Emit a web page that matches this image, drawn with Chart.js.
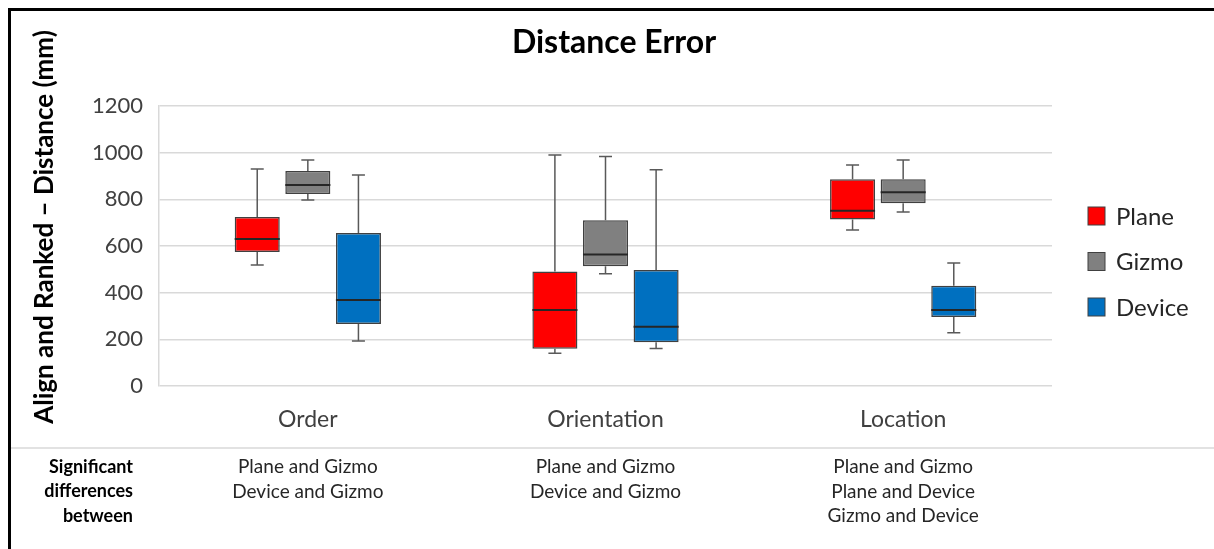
<!DOCTYPE html>
<html lang="en">
<head>
    <meta charset="UTF-8">
    <title>Distance Error</title>
    <script src="https://cdn.jsdelivr.net/npm/chart.js@4.4.0/dist/chart.umd.min.js"></script>
    <style>
        html, body { margin: 0; padding: 0; background: #fff; }
        #wrap { position: relative; width: 1214px; height: 549px; }
    </style>
</head>
<body>
<div id="wrap"><canvas id="distChart"></canvas></div>
<script>
    // box stats per category: [min, q1, median, q3, max]
    const categories = ['Order', 'Orientation', 'Location'];
    const seriesNames = ['Plane', 'Gizmo', 'Device'];
    const seriesColors = ['#FF0000', '#808080', '#0070C0'];
    const plane  = [[519, 574, 630, 724, 930], [140, 160, 326, 491, 990], [669, 714, 751, 886, 947]];
    const gizmo  = [[797, 823, 861, 921, 969], [481, 513, 564, 710, 984], [746, 783, 830, 886, 969]];
    const device = [[193, 266, 369, 656, 904], [161, 187, 254, 497, 927], [228, 296, 326, 430, 527]];
    const yTicks = [0, 200, 400, 600, 800, 1000, 1200];

    const chartTitle = 'Distance Error';
    const yTitle = 'Align and Ranked \u2013 Distance (mm)';
    const sigLabel = ['Significant', 'differences', 'between'];
    const sigDiffs = [
        ['Plane and Gizmo', 'Device and Gizmo'],
        ['Plane and Gizmo', 'Device and Gizmo'],
        ['Plane and Gizmo', 'Plane and Device', 'Gizmo and Device']
    ];

    const allStats = [plane, gizmo, device];
    const FONT = 'Lato, "Noto Sans", sans-serif';

    // whiskers and medians on top of the floating bars
    const boxPlugin = {
        id: 'boxWhiskers',
        afterDatasetsDraw(chart) {
            const ctx = chart.ctx, y = chart.scales.y;
            ctx.save();
            chart.data.datasets.forEach((ds, di) => {
                const meta = chart.getDatasetMeta(di);
                meta.data.forEach((bar, i) => {
                    const s = allStats[di][i];
                    const x = bar.x, half = bar.width / 2;
                    const yMin = y.getPixelForValue(s[0]), yQ1 = y.getPixelForValue(s[1]);
                    const yMed = y.getPixelForValue(s[2]), yQ3 = y.getPixelForValue(s[3]);
                    const yMax = y.getPixelForValue(s[4]);
                    ctx.strokeStyle = '#595959';
                    ctx.lineWidth = 1.5;
                    ctx.beginPath();
                    ctx.moveTo(x, yQ3); ctx.lineTo(x, yMax);
                    ctx.moveTo(x, yQ1); ctx.lineTo(x, yMin);
                    ctx.moveTo(x - 6.5, yMax); ctx.lineTo(x + 6.5, yMax);
                    ctx.moveTo(x - 6.5, yMin); ctx.lineTo(x + 6.5, yMin);
                    ctx.stroke();
                    ctx.strokeStyle = '#262626';
                    ctx.lineWidth = 2;
                    ctx.beginPath();
                    ctx.moveTo(x - half, yMed); ctx.lineTo(x + half, yMed);
                    ctx.stroke();
                });
            });
            ctx.restore();
        }
    };

    // frame, titles, legend and the significance table under the x axis
    const extrasPlugin = {
        id: 'extras',
        afterDraw(chart) {
            const ctx = chart.ctx, x = chart.scales.x;
            ctx.save();
            ctx.fillStyle = '#000';
            ctx.fillRect(8, 8, 1206, 3);
            ctx.fillRect(8, 8, 3, 541);

            ctx.strokeStyle = '#d9d9d9';
            ctx.lineWidth = 1.5;
            ctx.beginPath();
            ctx.moveTo(11, 448); ctx.lineTo(1214, 448);
            ctx.stroke();

            // titles
            ctx.fillStyle = '#000';
            ctx.textAlign = 'center';
            ctx.textBaseline = 'middle';
            ctx.font = 'bold 32px ' + FONT;
            ctx.fillText(chartTitle, 614, 43);
            ctx.save();
            ctx.translate(45, 227);
            ctx.rotate(-Math.PI / 2);
            ctx.font = 'bold 26px ' + FONT;
            ctx.fillText(yTitle, 0, 0);
            ctx.restore();

            // legend
            chart.data.datasets.forEach((ds, i) => {
                const cy = 216 + i * 45.5;
                ctx.fillStyle = ds.backgroundColor;
                ctx.fillRect(1088, cy - 9, 17, 18);
                ctx.strokeStyle = '#404040';
                ctx.lineWidth = 1;
                ctx.strokeRect(1088, cy - 9, 17, 18);
                ctx.fillStyle = '#262626';
                ctx.font = '24px ' + FONT;
                ctx.textAlign = 'left';
                ctx.textBaseline = 'middle';
                ctx.fillText(ds.label, 1116, cy + 1);
            });

            // table
            ctx.textBaseline = 'middle';
            ctx.font = 'bold 18px ' + FONT;
            ctx.textAlign = 'right';
            ctx.fillStyle = '#000';
            sigLabel.forEach((t, j) => ctx.fillText(t, 133, 467 + j * 24.5));
            ctx.font = '19px ' + FONT;
            ctx.textAlign = 'center';
            ctx.fillStyle = '#262626';
            sigDiffs.forEach((lines, i) => {
                const cx = x.getPixelForTick(i);
                lines.forEach((t, j) => ctx.fillText(t, cx, 467 + j * 24.5));
            });
            ctx.restore();
        }
    };

    new Chart(document.getElementById('distChart'), {
        type: 'bar',
        data: {
            labels: categories,
            datasets: seriesNames.map((name, i) => ({
                label: name,
                data: allStats[i].map(s => [s[1], s[3]]),
                backgroundColor: seriesColors[i],
                borderColor: '#404040',
                borderWidth: 1.5,
                borderSkipped: false,
                categoryPercentage: 0.51,
                barPercentage: 0.89
            }))
        },
        options: {
            responsive: true,
            maintainAspectRatio: false,
            animation: false,
            layout: { padding: { left: 0, right: 162, top: 106, bottom: 0 } },
            plugins: {
                legend: { display: false },
                tooltip: { enabled: false }
            },
            scales: {
                x: {
                    grid: { display: false, drawTicks: false },
                    border: { display: false },
                    ticks: { color: '#404040', font: { family: FONT, size: 23 }, padding: 20 },
                    afterFit(scale) { scale.height = 163; }
                },
                y: {
                    min: 0,
                    max: 1200,
                    afterBuildTicks(scale) { scale.ticks = yTicks.map(v => ({ value: v })); },
                    grid: { color: '#d9d9d9', lineWidth: 1.5, drawTicks: false },
                    border: { display: true, color: '#d9d9d9', width: 1.5 },
                    ticks: {
                        color: '#404040',
                        font: { family: FONT, size: 22 },
                        padding: 16,
                        callback: v => String(v)
                    },
                    afterFit(scale) { scale.width = 159; }
                }
            }
        },
        plugins: [boxPlugin, extrasPlugin]
    });
</script>
</body>
</html>
